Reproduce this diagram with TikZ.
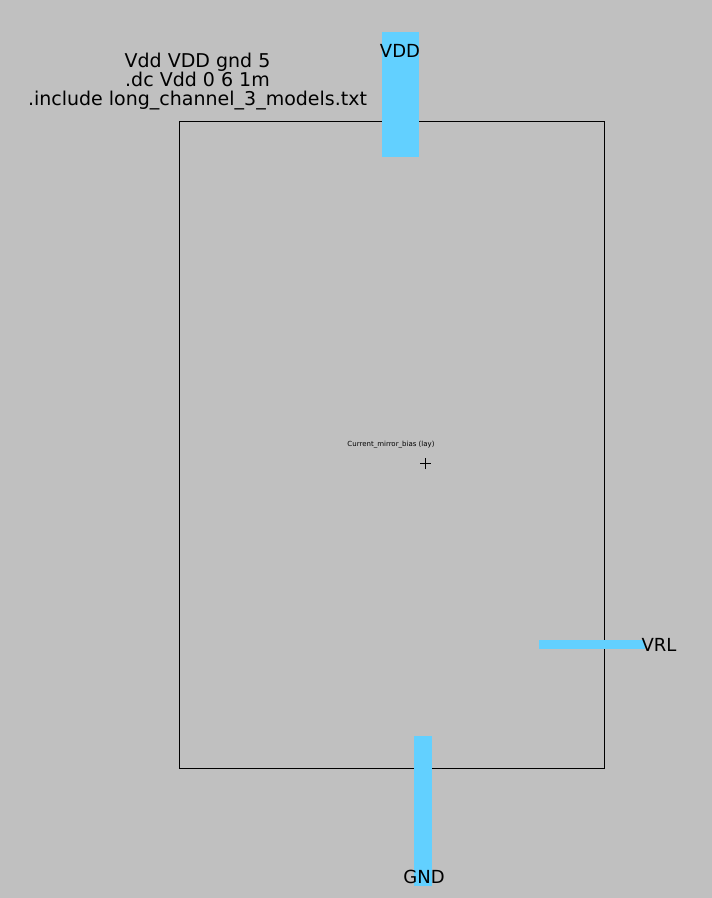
\documentclass[tikz,border=0pt]{standalone}
\usepackage{fontspec}
\setmainfont{DejaVu Sans}
\usetikzlibrary{positioning}
\definecolor{sheetc}{RGB}{192,192,192}
\definecolor{pinc}{RGB}{98,208,255}

\begin{document}
\begin{tikzpicture}[x=1pt,y=-1pt]
\fill[sheetc] (0,0) rectangle (712,898);
\useasboundingbox (0,0) rectangle (712,898);

% cell outline
\node[anchor=north west,draw,line width=1pt,inner sep=0pt,shape=rectangle,minimum width=425pt,minimum height=647pt]
(cell) at (179,121) {};

% pins
\node[anchor=north,fill=pinc,inner sep=0pt,shape=rectangle,minimum width=37pt,minimum height=125pt]
(vddpin) at (400.5,32) {};
\node[anchor=north,fill=pinc,inner sep=0pt,shape=rectangle,minimum width=18pt,minimum height=150pt]
(gndpin) at (423,736) {};
\node[anchor=west,fill=pinc,inner sep=0pt,shape=rectangle,minimum width=106pt,minimum height=9pt]
(vrlpin) at (539,644.5) {};

\node[anchor=base,inner sep=0pt,font=\fontsize{18}{18.7}\selectfont] (vddlbl) at (400,57) {VDD};
\node[anchor=base,inner sep=0pt,font=\fontsize{18}{18.7}\selectfont] (gndlbl) at (424,883) {GND};
\node[anchor=base,inner sep=0pt,font=\fontsize{18}{18.7}\selectfont] (vrllbl) at (659,651) {VRL};

% spice lines
\node[anchor=base,inner sep=0pt,align=center,font=\fontsize{19}{18.7}\selectfont] (spice) at (197.5,105)
{Vdd VDD gnd 5\\.dc Vdd 0 6 1m\\.include long\_channel\_3\_models.txt};

% cell name and origin
\node[anchor=base,inner sep=0pt,font=\fontsize{7}{8}\selectfont] (cellname) at (391,446) {Current\_mirror\_bias (lay)};
\coordinate (origin) at (425.5,463.5);
\draw[line width=1pt] ([xshift=-5.5pt]origin) -- ([xshift=5.5pt]origin);
\draw[line width=1pt] ([yshift=-5.5pt]origin) -- ([yshift=5.5pt]origin);

\end{tikzpicture}
\end{document}
